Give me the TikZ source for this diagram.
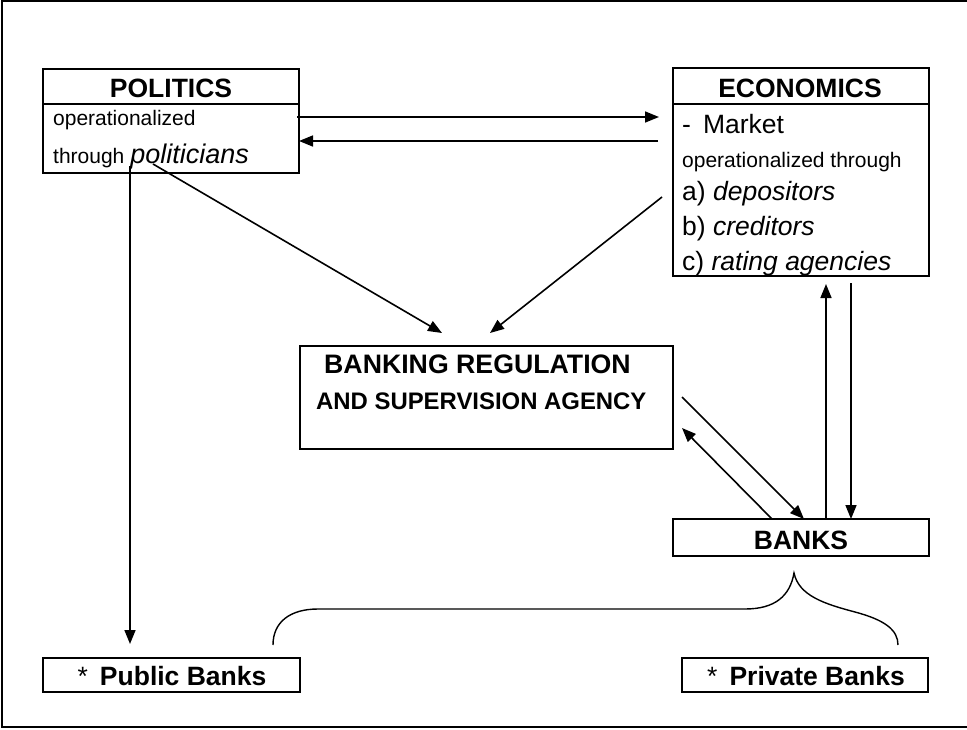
\documentclass[tikz,border=0pt]{standalone}
\usepackage{fontspec}
\setmainfont{Liberation Sans}
\usetikzlibrary{arrows.meta}
\newcommand{\fsz}[1]{\fontsize{#1}{#1}\selectfont}
\begin{document}
\begin{tikzpicture}[x=1pt,y=-1pt,
  box/.style={draw, line width=2.2pt, inner sep=0pt, outer sep=0pt},
  conn/.style={line width=1.6pt, -{Triangle[length=14pt,width=11pt]}},
  title/.style={anchor=base, inner sep=0pt, font=\fsz{26.5}\bfseries},
  bodytext/.style={anchor=base west, inner sep=0pt}]
\useasboundingbox (0,0) rectangle (967,729);

% outer frame (open on the right)
\draw[line width=1.6pt] (970,1) -- (2,1) -- (2,727) -- (970,727);

% boxes
\node[box, minimum width=256pt, minimum height=104pt] (pol) at (171,121) {};
\draw[line width=2.2pt] (pol.west |- 0,104) -- (pol.east |- 0,104);
\node[box, minimum width=256pt, minimum height=208pt] (eco) at (801,172) {};
\draw[line width=2.2pt] (eco.west |- 0,104) -- (eco.east |- 0,104);
\node[box, minimum width=373pt, minimum height=103pt] (bra) at (486.5,397.5) {};
\node[box, minimum width=256pt, minimum height=37pt] (banks) at (801,537.5) {};
\node[box, minimum width=257pt, minimum height=34pt] (pub) at (171.5,675) {};
\node[box, minimum width=246pt, minimum height=34pt] (priv) at (805,675) {};

% texts
\node[title] (poltitle) at (171,97) {POLITICS};
\node[bodytext] (pol1) at (53,125) {\fsz{21}operationalized};
\node[bodytext] (pol2) at (53,163) {\fsz{21}through \fsz{27}\itshape politicians};

\node[title] (ecotitle) at (800,97) {ECONOMICS};
\node[bodytext] (eco1) at (682,133) {\fsz{26.5}-\hspace{12pt}Market};
\node[bodytext] (eco2) at (682,167) {\fsz{21}operationalized through};
\node[bodytext] (eco3) at (682,200) {\fsz{26.5}a) \textit{depositors}};
\node[bodytext] (eco4) at (682,235) {\fsz{26.5}b) \textit{creditors}};
\node[bodytext] (eco5) at (682,270) {\fsz{26.5}c) \textit{rating agencies}};

\node[bodytext] (bra1) at (324,373) {\fsz{26.7}\bfseries BANKING REGULATION};
\node[bodytext] (bra2) at (316,409) {\fsz{23.9}\bfseries AND SUPERVISION AGENCY};

\node[title] (bankstitle) at (801,549) {BANKS};
\node[title] (pubtitle) at (172,685) {{\mdseries *}\hspace{12pt}Public Banks};
\node[title] (privtitle) at (806,685) {{\mdseries *}\hspace{12pt}Private Banks};

% connector end points
\coordinate (a1s) at (297,117);  \coordinate (a1e) at (659,117);
\coordinate (a2s) at (658,141);  \coordinate (a2e) at (299,141);
\coordinate (a3s) at (153,164);  \coordinate (a3e) at (442,333);
\coordinate (a4s) at (662,197);  \coordinate (a4e) at (490,333);
\coordinate (a5s) at (130,166);  \coordinate (a5e) at (130,644);
\coordinate (a6s) at (682,397);  \coordinate (a6e) at (804,519);
\coordinate (a7s) at (772,519);  \coordinate (a7e) at (682,428);
\coordinate (a8s) at (826,519);  \coordinate (a8e) at (826,284);
\coordinate (a9s) at (851,283);  \coordinate (a9e) at (851,519);

\draw[conn] (a1s) -- (a1e);
\draw[conn] (a2s) -- (a2e);
\draw[conn] (a3s) -- (a3e);
\draw[conn] (a4s) -- (a4e);
\draw[conn] (a5s) -- (a5e);
\draw[conn] (a6s) -- (a6e);
\draw[conn] (a7s) -- (a7e);
\draw[conn] (a8s) -- (a8e);
\draw[conn] (a9s) -- (a9e);

% brace grouping public and private banks under BANKS
\draw[line width=1.4pt]
  (273,645) .. controls (273,622) and (290,609) .. (318,609)
  -- (745,609) .. controls (775,609) and (790,596) .. (794,573)
  .. controls (799,596) and (825,604) .. (855,612)
  .. controls (885,620) and (898,630) .. (898,645);
\end{tikzpicture}
\end{document}
